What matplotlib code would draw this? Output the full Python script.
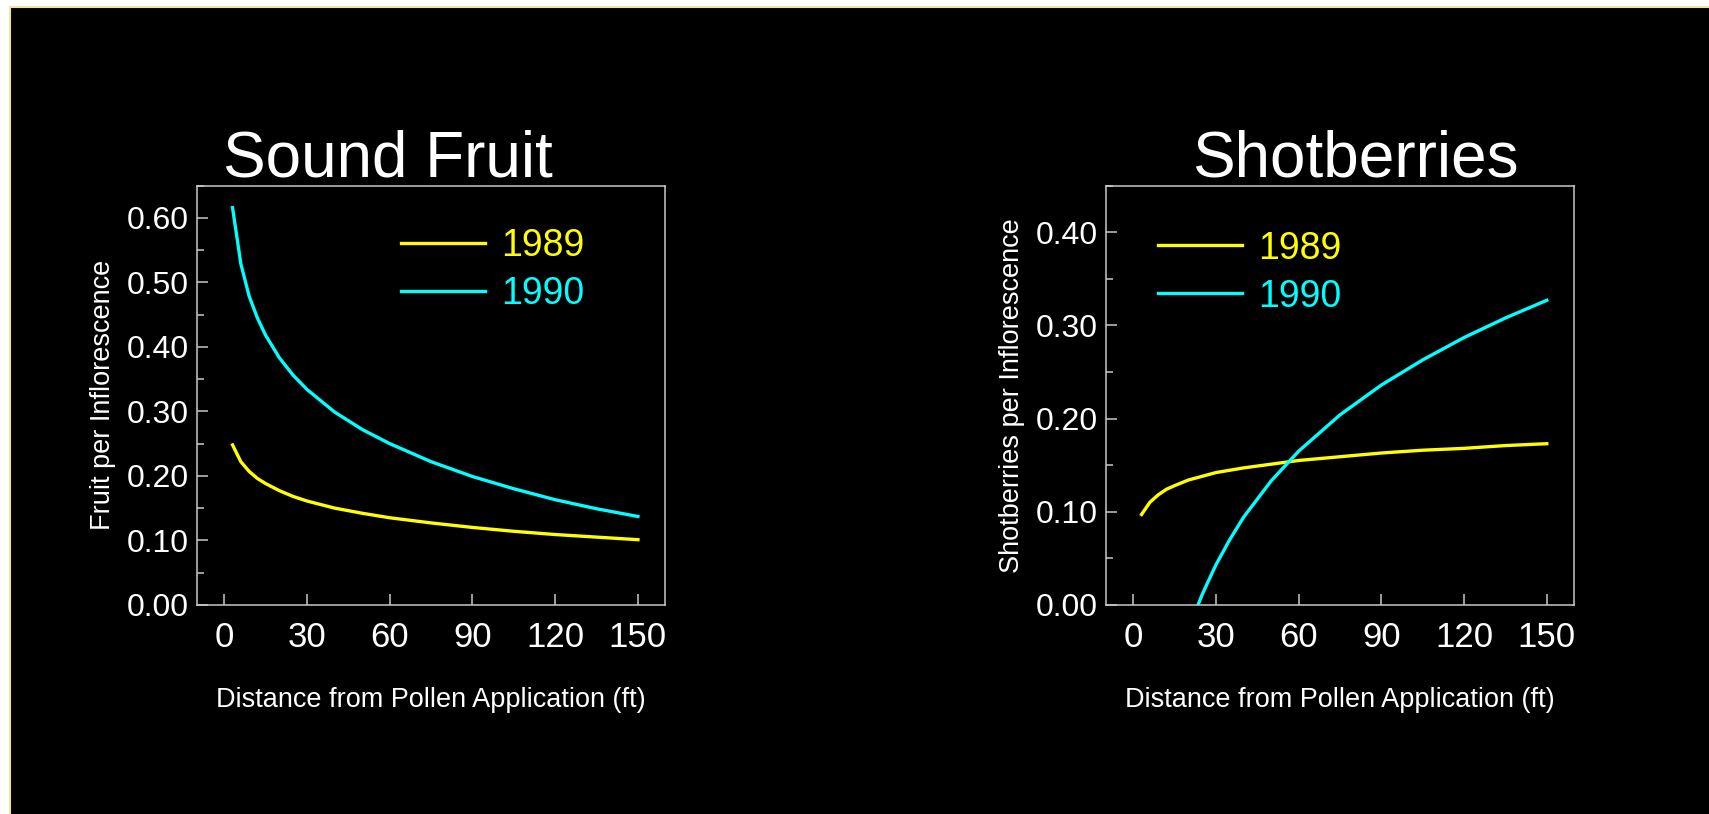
import matplotlib
matplotlib.use("Agg")
from matplotlib import pyplot as plt
from matplotlib.patches import Rectangle
from matplotlib.ticker import MultipleLocator, FormatStrFormatter

plt.rcParams["font.family"] = ["Liberation Sans", "DejaVu Sans"]

# distance from pollen application (ft)
dist = [3, 6, 9, 12, 15, 20, 25, 30, 40, 50, 60, 75, 90, 105, 120, 135, 150]

# sound fruit per inflorescence
sound_1989 = [0.248, 0.222, 0.207, 0.196, 0.188, 0.177, 0.168, 0.161, 0.150,
              0.142, 0.135, 0.127, 0.120, 0.114, 0.109, 0.105, 0.101]
sound_1990 = [0.616, 0.529, 0.479, 0.445, 0.418, 0.383, 0.356, 0.334, 0.299,
              0.272, 0.250, 0.222, 0.199, 0.180, 0.163, 0.149, 0.137]

# shotberries per inflorescence
shot_1989 = [0.097, 0.110, 0.118, 0.124, 0.128, 0.134, 0.138, 0.142, 0.147,
             0.151, 0.155, 0.159, 0.163, 0.166, 0.168, 0.171, 0.173]
dist_shot_1990 = [23.5, 25, 27, 30, 35, 40, 50, 60, 75, 90, 105, 120, 135, 150]
shot_1990 = [0.0, 0.011, 0.024, 0.043, 0.070, 0.094, 0.133, 0.165, 0.204,
             0.236, 0.263, 0.287, 0.308, 0.327]

years = ["1989", "1990"]
colors = ["#ffff00", "#00ffff"]
edge = "#c8c8c8"

fig = plt.figure(figsize=(17.09, 8.14), dpi=100, facecolor="white")
# black slide area with a thin pale border on the top and left
fig.patches.append(Rectangle((0.00614, -0.01), 1.0, 1.0 - 0.0092 + 0.01,
                             transform=fig.transFigure, facecolor="black",
                             edgecolor="#eee6a6", linewidth=1.5, zorder=-10))


def setup(ax, ymax, ytop, title, title_x, ylabel):
    ax.set_facecolor("black")
    ax.set_xlim(-10, 160)
    ax.set_ylim(0, ymax)
    ax.set_xticks([0, 30, 60, 90, 120, 150])
    ax.yaxis.set_major_locator(MultipleLocator(0.1))
    ax.yaxis.set_minor_locator(MultipleLocator(0.05))
    ax.set_yticks([i / 10 for i in range(int(round(ytop * 10)) + 1)])
    ax.yaxis.set_major_formatter(FormatStrFormatter("%.2f"))
    for s in ax.spines.values():
        s.set_color(edge)
        s.set_linewidth(1.1)
    ax.tick_params(which="both", direction="in", colors=edge, width=1.1,
                   labelcolor="white")
    ax.tick_params(which="major", length=8)
    ax.tick_params(which="minor", length=5)
    ax.tick_params(axis="x", pad=12, labelsize=25)
    ax.tick_params(axis="y", pad=5.5, labelsize=23)
    ax.text(title_x, 1.023, title, transform=ax.transAxes, ha="center",
            va="baseline", color="white", fontsize=46)
    ax.set_xlabel("Distance from Pollen Application (ft)", color="white",
                  fontsize=19.5)
    ax.set_ylabel(ylabel, color="white", fontsize=19.5)
    ax.xaxis.set_label_coords(0.5, -0.196)
    ax.yaxis.set_label_coords(-0.172, 0.5)


def add_legend(ax, x, y):
    ax.legend(loc="upper left", bbox_to_anchor=(x, y), frameon=False,
              fontsize=27, handlelength=2.25, handletextpad=0.42,
              labelspacing=0.32, borderpad=0, borderaxespad=0,
              labelcolor="linecolor")


ax1 = fig.add_axes([0.1151, 0.2570, 0.2743, 0.5148])
setup(ax1, 0.65, 0.6, "Sound Fruit", 0.408, "Fruit per Inflorescence")
ax1.plot(dist, sound_1989, color=colors[0], lw=2.4, label=years[0])
ax1.plot(dist, sound_1990, color=colors[1], lw=2.4, label=years[1])
add_legend(ax1, 0.436, 0.898)

ax2 = fig.add_axes([0.6470, 0.2570, 0.2742, 0.5148])
setup(ax2, 0.45, 0.4, "Shotberries", 0.532, "Shotberries per Inflorescence")
ax2.plot(dist, shot_1989, color=colors[0], lw=2.4, label=years[0])
ax2.plot(dist_shot_1990, shot_1990, color=colors[1], lw=2.4, label=years[1])
add_legend(ax2, 0.1116, 0.893)

fig.savefig("out.png", dpi=100, facecolor=fig.get_facecolor())
